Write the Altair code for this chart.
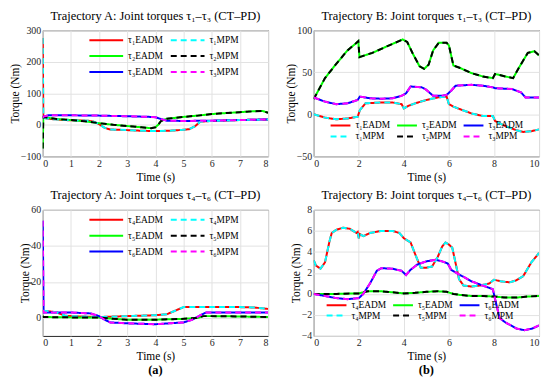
import altair as alt
import pandas as pd

# ---------------- Trajectory A, joints 1-3 ----------------
A_t_tau1 = [0, 0.02, 0.3, 1.0, 1.6, 1.8, 2.0, 2.2, 2.4, 3.0, 3.5, 4.0, 4.5, 5.0, 5.2, 5.4, 5.6, 6.0, 7.0, 8.0]
A_tau1 = [275, 22, 18, 14, 13, 10, 2, -10, -15, -17, -19, -20, -19, -16, -14, -5, 10, 12, 15, 17]
A_t_tau2 = [0, 0.02, 0.2, 0.5, 1.0, 1.5, 2.0, 2.5, 3.0, 3.5, 3.85, 4.0, 4.1, 4.2, 4.4, 5.0, 5.5, 6.0, 6.5, 7.0, 7.5, 7.8, 8.0]
A_tau2 = [-75, 25, 22, 18, 15, 11, 5, 0, -4, -8, -11, -8, 0, 12, 19, 25, 29, 34, 37, 40, 43, 44, 38]
A_t_tau3 = [0, 0.03, 0.2, 1.0, 2.0, 3.0, 3.8, 4.0, 4.2, 4.4, 5.0, 6.0, 7.0, 8.0]
A_tau3 = [22, 26, 30, 30, 29, 27, 25, 24, 18, 13, 12, 13, 15, 17]

# ---------------- Trajectory B, joints 1-3 ----------------
B_t_tau1 = [0, 0.5, 1.0, 1.5, 1.95, 2.05, 2.3, 3.0, 3.5, 3.9, 4.0, 4.2, 4.5, 5.0, 5.5, 5.9, 6.0, 6.2, 6.5, 7.0, 7.5, 7.95, 8.05, 8.5, 9.0, 9.3, 9.7, 10.0]
B_tau1 = [0, -4, -6, -5, -3, 5, 13, 14, 14, 12, 7, 10, 13, 17, 20, 21, 12, 9, 6, 1, -2, -2, -8, -14, -19, -21, -20, -18]
B_t_tau2 = [0, 0.5, 1.0, 1.5, 1.9, 1.98, 2.03, 2.6, 3.35, 3.95, 4.15, 4.4, 4.7, 4.9, 5.1, 5.3, 5.55, 5.9, 6.0, 6.2, 6.5, 7.0, 7.5, 7.95, 8.05, 8.5, 8.85, 9.1, 9.5, 9.8, 10.0]
B_tau2 = [18, 43, 60, 76, 85, 87, 68, 73, 82, 89, 86, 72, 57, 54, 59, 76, 85, 85, 82, 58, 55, 49, 45, 43, 48, 45, 43, 55, 73, 75, 70]
B_t_tau3 = [0, 0.5, 1.0, 1.5, 1.95, 2.05, 2.5, 3.0, 3.5, 3.9, 4.1, 4.3, 4.8, 5.0, 5.3, 5.7, 5.9, 6.1, 6.3, 7.0, 7.5, 7.95, 8.05, 8.8, 9.2, 9.4, 10.0]
B_tau3 = [20, 15, 12, 13, 17, 21, 19, 18.5, 19, 22, 25, 33, 32, 29, 22, 22, 23, 28, 34, 35, 34, 32, 31, 30, 26, 20, 20]

# ---------------- Trajectory A, joints 4-6 ----------------
A_t_tau4 = [0, 0.3, 0.5, 0.8, 1.0, 2.0, 3.0, 4.0, 4.4, 4.7, 5.0, 6.0, 7.0, 7.5, 8.0]
A_tau4 = [4, 3.5, 3, 1.2, 1, 0.5, 1, 1.5, 2, 4, 6, 6, 6, 5.8, 5]
A_t_tau5 = [0, 0.03, 1.0, 2.0, 2.5, 3.0, 4.0, 5.0, 5.5, 5.7, 6.0, 7.0, 8.0]
A_tau5 = [1, 0.5, 0.3, 0.2, -0.5, -1, -1, -0.5, 0, 1, 1, 0.8, 0.5]
A_t_tau6 = [0, 0.03, 0.2, 1.0, 1.7, 2.0, 2.2, 2.4, 3.0, 4.0, 4.5, 5.0, 5.3, 5.6, 5.8, 6.0, 7.0, 8.0]
A_tau6 = [54, 3, 3, 3, 2.5, 1, -1, -2.5, -3, -3.5, -3, -2.5, -1, 1.5, 3, 3, 3, 3]

# ---------------- Trajectory B, joints 4-6 ----------------
B_t_tau4 = [0, 0.1, 0.3, 0.5, 0.7, 0.8, 1.0, 1.3, 1.6, 1.9, 1.95, 2.0, 2.05, 2.2, 2.5, 3.0, 3.5, 3.8, 4.0, 4.3, 4.5, 4.75, 5.0, 5.25, 5.5, 5.7, 5.85, 6.0, 6.15, 6.45, 6.65, 7.0, 7.4, 7.8, 8.0, 8.3, 8.7, 9.0, 9.3, 9.66, 10.0]
B_tau4 = [3.2, 2.7, 2.4, 3.0, 5.0, 5.8, 6.1, 6.3, 6.2, 5.8, 5.9, 5.3, 5.7, 5.5, 5.8, 6.0, 6.0, 5.8, 5.3, 4.9, 3.8, 2.5, 2.5, 2.6, 3.5, 4.5, 4.9, 4.7, 4.4, 1.4, 0.8, 0.7, 0.8, 1.0, 1.35, 1.2, 1.1, 1.3, 1.7, 3.0, 3.9]
B_t_tau5 = [0, 1.0, 2.0, 2.4, 3.0, 3.5, 4.0, 4.5, 5.0, 5.5, 5.9, 6.2, 6.5, 7.0, 7.5, 8.0, 8.5, 9.0, 9.5, 10.0]
B_tau5 = [0, 0, 0.05, 0.25, 0.25, 0.15, 0.05, 0.1, 0.2, 0.25, 0.2, 0, -0.1, -0.2, -0.2, -0.25, -0.35, -0.35, -0.25, -0.2]
B_t_tau6 = [0, 0.5, 1.0, 1.5, 2.0, 2.2, 2.5, 2.8, 3.0, 3.5, 3.9, 4.1, 4.3, 4.6, 5.0, 5.4, 5.7, 5.95, 6.1, 6.5, 7.0, 7.5, 7.95, 8.05, 8.25, 8.5, 9.0, 9.35, 9.7, 10.0]
B_tau6 = [0, -0.2, -0.4, -0.5, -0.4, 0, 1.0, 2.2, 2.45, 2.4, 2.2, 1.8, 2.3, 2.8, 3.1, 3.25, 3.1, 2.9, 2.3, 1.8, 1.2, 0.8, 0.45, -0.5, -2.3, -2.7, -3.3, -3.45, -3.3, -3.0]

SUB = {1: "₁", 2: "₂", 3: "₃", 4: "₄", 5: "₅", 6: "₆"}
EADM_COLORS = ["#ff0000", "#00ff00", "#0000ff"]
MPM_COLORS = ["#00ffff", "#000000", "#ff00ff"]

FONT = "Liberation Serif"
W, H = 227, 127


def panel(joints, curves, xdom, xticks, ydom, yticks, title, lay, tag=None):
    rows = []
    for j, (t, v) in zip(joints, curves):
        for kind in ["EADM", "MPM"]:
            name = "τ" + SUB[j] + kind
            for ti, vi in zip(t, v):
                rows.append({"t": ti, "v": vi, "series": name, "kind": kind})
    df = pd.DataFrame(rows)

    eadm = ["τ" + SUB[j] + "EADM" for j in joints]
    mpm = ["τ" + SUB[j] + "MPM" for j in joints]
    # legend entries are filled column by column
    if lay["columns"] == 2:
        order = eadm + mpm
        colors = EADM_COLORS + MPM_COLORS
        dashes = [[1, 0]] * 3 + [[6, 4]] * 3
    else:
        order, colors, dashes = [], [], []
        for k in range(3):
            order += [eadm[k], mpm[k]]
            colors += [EADM_COLORS[k], MPM_COLORS[k]]
            dashes += [[1, 0], [6, 4]]

    leg = alt.Legend(
        orient="none", legendX=lay["x"], legendY=lay["y"],
        columns=lay["columns"], direction="vertical", title=None,
        symbolType="stroke", symbolSize=lay["size"], symbolStrokeWidth=2,
        labelFont=FONT, labelFontSize=9.5, labelColor="#000000",
        rowPadding=lay["rowpad"], columnPadding=lay["colpad"],
        labelOffset=4, padding=0, clipHeight=10,
    )

    base = alt.Chart(df).encode(
        x=alt.X("t:Q", scale=alt.Scale(domain=xdom, nice=False, zero=False),
                axis=alt.Axis(values=xticks, title="Time (s)", format="d")),
        y=alt.Y("v:Q", scale=alt.Scale(domain=ydom, nice=False, zero=False),
                axis=alt.Axis(values=yticks, title="Torque (Nm)", format="d")),
        color=alt.Color("series:N", scale=alt.Scale(domain=order, range=colors), legend=leg),
        strokeDash=alt.StrokeDash("series:N", scale=alt.Scale(domain=order, range=dashes), legend=leg),
    )
    lay_e = base.transform_filter(alt.datum.kind == "EADM").mark_line(strokeWidth=2, clip=True)
    lay_m = base.transform_filter(alt.datum.kind == "MPM").mark_line(strokeWidth=2, clip=True)
    layers = [lay_e, lay_m]
    if tag is not None:
        txt = alt.Chart(pd.DataFrame({"lab": [tag]})).mark_text(
            font=FONT, fontSize=12.5, fontWeight="bold", color="#000000", baseline="middle"
        ).encode(text="lab:N", x=alt.value(W / 2), y=alt.value(H + 34))
        layers.append(txt)
    return alt.layer(*layers).properties(
        width=W, height=H,
        title=alt.Title(title, font=FONT, fontSize=12.5, fontWeight="normal",
                        color="#000000", offset=3, anchor="middle"),
    )


legA = {"x": 46, "y": 5, "columns": 2, "size": 1156, "rowpad": 6, "colpad": 6}
legB = {"x": 16, "y": 91, "columns": 3, "size": 400, "rowpad": 1, "colpad": 5}
legB2 = {"x": 12, "y": 91, "columns": 3, "size": 400, "rowpad": 0.5, "colpad": 5}

pA1 = panel([1, 2, 3], [(A_t_tau1, A_tau1), (A_t_tau2, A_tau2), (A_t_tau3, A_tau3)],
            [0, 8], list(range(0, 9)), [-100, 300], [-100, 0, 100, 200, 300],
            "Trajectory A: Joint torques τ₁–τ₃ (CT–PD)", legA)
pB1 = panel([1, 2, 3], [(B_t_tau1, B_tau1), (B_t_tau2, B_tau2), (B_t_tau3, B_tau3)],
            [0, 10], [0, 2, 4, 6, 8, 10], [-50, 100], [-50, 0, 50, 100],
            "Trajectory B: Joint torques τ₁–τ₃ (CT–PD)", legB)
pA2 = panel([4, 5, 6], [(A_t_tau4, A_tau4), (A_t_tau5, A_tau5), (A_t_tau6, A_tau6)],
            [0, 8], list(range(0, 9)), [-10, 60], [0, 20, 40, 60],
            "Trajectory A: Joint torques τ₄–τ₆ (CT–PD)", legA, tag="(a)")
pB2 = panel([4, 5, 6], [(B_t_tau4, B_tau4), (B_t_tau5, B_tau5), (B_t_tau6, B_tau6)],
            [0, 10], [0, 2, 4, 6, 8, 10], [-4, 8], [-4, -2, 0, 2, 4, 6, 8],
            "Trajectory B: Joint torques τ₄–τ₆ (CT–PD)", legB2, tag="(b)")

chart = alt.concat(
    pA1, pB1, pA2, pB2, columns=2, spacing={"row": 54, "column": 46}, bounds="flush"
).resolve_scale(
    color="independent", strokeDash="independent", x="independent", y="independent"
).properties(
    padding={"left": 0, "top": 0, "right": 2, "bottom": 0}
).configure_view(
    stroke="#262626", strokeWidth=1
).configure_axis(
    grid=True, gridColor="#e2e2e2", gridWidth=1, domain=False, ticks=False,
    labelFont=FONT, labelFontSize=10, labelColor="#262626", labelPadding=2,
    titleFont=FONT, titleFontSize=11.5, titleFontWeight="normal", titleColor="#000000",
).configure_axisY(
    titlePadding=0
).configure_axisX(
    titlePadding=3, labelPadding=2
)

chart.save("out.html", embed_options={"renderer": "svg", "actions": False})
